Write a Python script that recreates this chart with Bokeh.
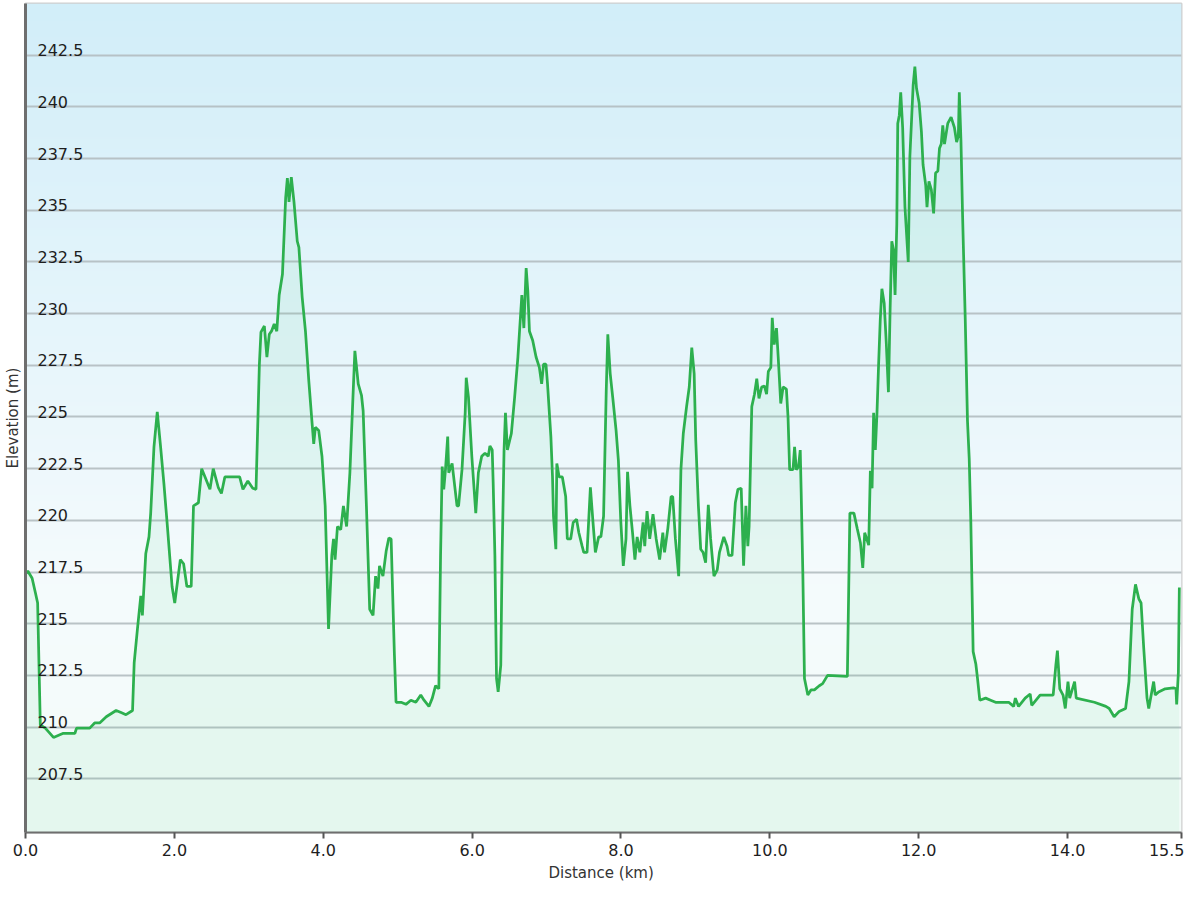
import numpy as np
from bokeh.plotting import figure
from bokeh.models import Range1d, FixedTicker, PrintfTickFormatter
from bokeh.core.properties import value
from bokeh.embed import file_html
from bokeh.resources import INLINE

# ---------------- data ----------------
distance_km = [
    0.000, 0.031, 0.089, 0.133, 0.163, 0.199, 0.266, 0.376, 0.508, 0.664, 0.686, 0.863, 0.929, 0.996,
    1.085, 1.217, 1.284, 1.350, 1.438, 1.460, 1.504, 1.549, 1.570, 1.616, 1.659, 1.682, 1.726, 1.770,
    1.815, 1.859, 1.902, 1.969, 2.005, 2.080, 2.124, 2.168, 2.226, 2.257, 2.323, 2.367, 2.412, 2.478,
    2.522, 2.589, 2.632, 2.678,
    2.765, 2.877, 2.921, 2.987, 3.053, 3.097, 3.142, 3.163, 3.209, 3.243, 3.275, 3.305, 3.341, 3.376,
    3.408, 3.452, 3.495, 3.518, 3.540, 3.571, 3.607, 3.651, 3.673, 3.717, 3.761, 3.806, 3.850, 3.872,
    3.894, 3.939, 3.983, 4.026, 4.071, 4.115, 4.138, 4.159, 4.191, 4.235, 4.271, 4.314, 4.358, 4.403,
    4.425, 4.470, 4.514, 4.536, 4.580, 4.624, 4.669, 4.703, 4.735, 4.756, 4.802, 4.845, 4.881, 4.912,
    4.956, 4.978,
    5.045, 5.111, 5.177, 5.244, 5.310, 5.354, 5.420, 5.465, 5.509, 5.553, 5.576, 5.598, 5.619, 5.642,
    5.672, 5.686, 5.731, 5.752, 5.797, 5.818, 5.864, 5.907, 5.921, 5.951, 5.996, 6.049, 6.084, 6.129,
    6.173, 6.217, 6.239, 6.270, 6.283, 6.306, 6.328, 6.350, 6.385, 6.403, 6.429, 6.448, 6.474, 6.527,
    6.571, 6.615, 6.668, 6.695, 6.726, 6.748, 6.770, 6.814, 6.859, 6.903, 6.934, 6.960, 6.992, 7.013,
    7.058, 7.080, 7.093, 7.125, 7.138, 7.169, 7.212, 7.257, 7.279, 7.324, 7.358, 7.403, 7.434, 7.478,
    7.500, 7.544, 7.589, 7.624, 7.656, 7.700, 7.730, 7.766, 7.802, 7.823, 7.855, 7.889,
    7.934, 7.965, 7.996, 8.031, 8.067, 8.088, 8.120, 8.155, 8.187, 8.217, 8.253, 8.297, 8.319, 8.350,
    8.386, 8.430, 8.473, 8.519, 8.562, 8.585, 8.629, 8.673, 8.695, 8.731, 8.775, 8.805, 8.837, 8.881,
    8.917, 8.951, 8.983, 9.004, 9.040, 9.071, 9.103, 9.137, 9.173, 9.204, 9.249, 9.293, 9.323, 9.381,
    9.425, 9.448, 9.492, 9.536, 9.571, 9.615, 9.647, 9.678, 9.704, 9.721, 9.757, 9.793, 9.824, 9.854,
    9.890, 9.926, 9.956, 9.979, 10.013, 10.032, 10.058, 10.089, 10.112, 10.146, 10.178, 10.222, 10.244,
    10.266, 10.311, 10.332, 10.355, 10.385, 10.408, 10.421, 10.443, 10.465, 10.510, 10.554,
    10.598, 10.664, 10.709, 10.775, 11.041, 11.075, 11.129, 11.174, 11.217, 11.248, 11.274, 11.328,
    11.350, 11.373, 11.394, 11.417, 11.439, 11.460, 11.483, 11.505, 11.536, 11.563, 11.593, 11.616,
    11.638, 11.660, 11.682, 11.705, 11.718, 11.739, 11.758, 11.784, 11.815, 11.859, 11.881, 11.904,
    11.925, 11.948, 11.970, 12.005, 12.036, 12.058, 12.094, 12.111, 12.137, 12.169, 12.200, 12.226,
    12.257, 12.279, 12.302, 12.323, 12.346, 12.390, 12.435, 12.479, 12.509, 12.532, 12.545, 12.567,
    12.589, 12.625, 12.655, 12.678, 12.700, 12.731, 12.767, 12.788, 12.820, 12.899, 12.966, 13.032,
    13.209,
    13.275, 13.298, 13.341, 13.430, 13.497, 13.518, 13.630, 13.806, 13.842, 13.863, 13.895, 13.939,
    13.969, 14.005, 14.028, 14.094, 14.116, 14.360, 14.514, 14.559, 14.625, 14.692, 14.779, 14.824,
    14.868, 14.912, 14.957, 14.987, 15.023, 15.067, 15.090, 15.156, 15.177, 15.222, 15.311, 15.422,
    15.456, 15.465, 15.488, 15.501,
]

elevation_m = [
    217.4, 217.55, 217.2, 216.5, 216.0, 210.1, 209.95, 209.5, 209.7, 209.7, 209.95, 209.95, 210.2, 210.2,
    210.5, 210.8, 210.7, 210.6, 210.8, 213.1, 214.75, 216.35, 215.4, 218.4, 219.2, 220.35, 223.55, 225.25,
    223.55, 221.8, 219.9, 216.8, 216.0, 218.1, 217.9, 216.8, 216.8, 220.7, 220.85, 222.5, 222.1, 221.5,
    222.5, 221.6, 221.3, 222.1,
    222.1, 222.1, 221.5, 221.9, 221.55, 221.5, 227.55, 229.1, 229.4, 227.9, 229.0, 229.15, 229.5, 229.15,
    230.9, 231.9, 235.6, 236.55, 235.4, 236.6, 235.4, 233.5, 233.2, 230.8, 229.15, 226.75, 224.7, 223.7,
    224.5, 224.35, 223.1, 220.7, 214.75, 218.3, 219.1, 218.1, 219.7, 219.55, 220.7, 219.7, 222.3, 226.3,
    228.2, 226.6, 226.05, 225.3, 220.7, 215.7, 215.4, 217.3, 216.7, 217.8, 217.3, 218.5, 219.15, 219.1,
    213.5, 211.2,
    211.2, 211.1, 211.3, 211.2, 211.55, 211.3, 211.0, 211.4, 212.0, 211.85, 218.3, 222.6, 221.5, 222.45,
    224.05, 222.3, 222.75, 222.1, 220.7, 220.7, 222.45, 225.2, 226.9, 225.95, 223.1, 220.35, 222.3, 223.1,
    223.25, 223.1, 223.6, 223.4, 221.8, 218.3, 212.35, 211.7, 213.0, 218.3, 223.4, 225.2, 223.4, 224.2,
    225.95, 227.9, 230.9, 229.3, 232.2, 231.1, 229.15, 228.7, 227.9, 227.4, 226.6, 227.55, 227.55, 226.6,
    224.05, 222.1, 220.2, 218.6, 222.75, 222.1, 222.1, 221.15, 219.1, 219.1, 219.9, 220.05, 219.4, 218.75,
    218.45, 218.45, 221.6, 219.9, 218.45, 219.2, 219.2, 220.2, 226.3, 229.0, 227.1, 225.95,
    224.35, 222.9, 220.05, 217.8, 219.1, 222.35, 220.7, 219.4, 218.1, 219.2, 218.45, 219.9, 218.75, 220.45,
    219.1, 220.3, 219.1, 218.1, 219.4, 218.45, 219.6, 221.15, 221.15, 219.1, 217.3, 222.45, 224.2, 225.5,
    226.45, 228.35, 227.1, 223.9, 220.7, 218.6, 218.45, 217.95, 220.75, 219.1, 217.3, 217.6, 218.45, 219.2,
    218.75, 218.3, 218.3, 220.85, 221.5, 221.55, 217.8, 220.7, 218.75, 219.7, 225.5, 226.1, 226.85, 225.9,
    226.45, 226.5, 226.1, 227.2, 227.4, 229.8, 228.5, 229.3, 227.9, 225.65, 226.45, 226.35, 225.0,
    222.45, 222.45, 223.55, 222.45, 222.6, 223.4, 221.3, 217.45, 212.35, 211.55, 211.8,
    211.8, 212.0, 212.1, 212.5, 212.45, 220.35, 220.35, 219.6, 218.9, 217.7, 219.4, 218.8,
    222.4, 221.55, 225.2, 223.4, 225.2, 227.45, 229.7, 231.2, 230.5, 228.65, 226.2, 230.3,
    233.5, 233.1, 230.9, 234.3, 239.2, 239.6, 240.7, 239.0, 235.15, 232.5, 237.6, 239.4,
    241.05, 241.95, 240.9, 240.2, 238.8, 237.2, 236.2, 235.15, 236.4, 236.0, 234.85, 236.8,
    236.9, 238.0, 238.2, 239.1, 238.2, 239.2, 239.5, 239.0, 238.3, 238.6, 240.7, 238.4,
    234.75, 229.7, 224.8, 223.0, 219.9, 213.65, 213.05, 212.4, 211.3, 211.4, 211.3, 211.2,
    211.2,
    211.0, 211.4, 211.0, 211.4, 211.6, 211.05, 211.55, 211.55, 213.0, 213.7, 211.85, 211.55,
    210.9, 212.2, 211.4, 212.2, 211.4, 211.2, 211.0, 210.9, 210.5, 210.75, 210.9, 212.2,
    215.7, 216.9, 216.2, 216.0, 213.8, 211.4, 210.9, 212.2, 211.55, 211.7, 211.85, 211.9,
    211.85, 211.1, 212.65, 216.75,
]

x_tick_values = [0.0, 2.0, 4.0, 6.0, 8.0, 10.0, 12.0, 14.0, 15.53]
y_tick_values = [207.5, 210.0, 212.5, 215.0, 217.5, 220.0, 222.5, 225.0, 227.5,
                 230.0, 232.5, 235.0, 237.5, 240.0, 242.5]
y_tick_labels = ["207.5", "210", "212.5", "215", "217.5", "220", "222.5", "225", "227.5",
                 "230", "232.5", "235", "237.5", "240", "242.5"]

x_start, x_end = 0.0, 15.53
y_min, y_max = 204.9, 245.0

FONT = "DejaVu Sans"

p = figure(
    width=1184, height=884,
    x_range=Range1d(x_start, x_end), y_range=Range1d(y_min, y_max),
    output_backend="svg", toolbar_location=None,
    min_border_left=25, min_border_right=3, min_border_top=3, min_border_bottom=50,
)
p.background_fill_color = "white"
p.border_fill_color = "white"
p.outline_line_color = "#cfcfcf"
p.outline_line_width = 2

# ---- gradient background of the plot area ----
rows = 400
t = np.linspace(0.0, 1.0, rows)  # 0 = bottom, 1 = top
stop_pos = [0.0, 0.3, 1.0]
stop_r = [244, 245, 210]
stop_g = [252, 251, 238]
stop_b = [249, 253, 249]
img = np.empty((rows, 1), dtype=np.uint32)
view = img.view(dtype=np.uint8).reshape((rows, 1, 4))
view[:, 0, 0] = np.interp(t, stop_pos, stop_r).astype(np.uint8)
view[:, 0, 1] = np.interp(t, stop_pos, stop_g).astype(np.uint8)
view[:, 0, 2] = np.interp(t, stop_pos, stop_b).astype(np.uint8)
view[:, 0, 3] = 255
p.image_rgba(image=[img], x=x_start, y=y_min, dw=x_end - x_start, dh=y_max - y_min, level="image")

# ---- area + line ----
p.varea(x=distance_km, y1=y_min, y2=elevation_m, fill_color="#2ecc71", fill_alpha=0.08)
p.line(distance_km, elevation_m, line_color="#2db04e", line_width=2.75)

# ---- grid ----
p.xgrid.visible = False
p.ygrid.ticker = FixedTicker(ticks=y_tick_values)
p.ygrid.grid_line_color = "#b3bcc0"
p.ygrid.grid_line_width = 2
p.ygrid.grid_line_alpha = 0.9

# ---- y axis (labels drawn inside the plot) ----
ya = p.yaxis[0]
ya.ticker = FixedTicker(ticks=[])
ya.major_label_standoff = 0
ya.major_tick_line_color = None
ya.minor_tick_line_color = None
ya.axis_line_color = "#6e6e6e"
ya.axis_line_width = 3
ya.axis_label = "Elevation (m)"
ya.axis_label_standoff = 4
ya.axis_label_text_font = FONT
ya.axis_label_text_font_size = "15px"
ya.axis_label_text_font_style = "normal"
ya.axis_label_text_color = "#333333"

p.text(x=[x_start] * len(y_tick_values), y=y_tick_values, text=y_tick_labels,
       x_offset=12, y_offset=-5, text_align="left", text_baseline="alphabetic",
       text_font=value(FONT), text_font_size="16px", text_color="#1e1e1e")

# ---- x axis ----
xa = p.xaxis[0]
xa.ticker = FixedTicker(ticks=x_tick_values)
xa.formatter = PrintfTickFormatter(format="%.1f")
xa.major_tick_out = 6
xa.major_tick_in = 0
xa.major_tick_line_color = "#555555"
xa.major_tick_line_width = 2
xa.minor_tick_line_color = None
xa.axis_line_color = "#6e6e6e"
xa.axis_line_width = 2
xa.major_label_standoff = 5
xa.major_label_text_font = FONT
xa.major_label_text_font_size = "16px"
xa.major_label_text_color = "#1e1e1e"
xa.axis_label = "Distance  (km)"
xa.axis_label_standoff = 5
xa.axis_label_text_font = FONT
xa.axis_label_text_font_size = "15px"
xa.axis_label_text_font_style = "normal"
xa.axis_label_text_color = "#333333"

open("out.html", "w").write(file_html(p, INLINE))
